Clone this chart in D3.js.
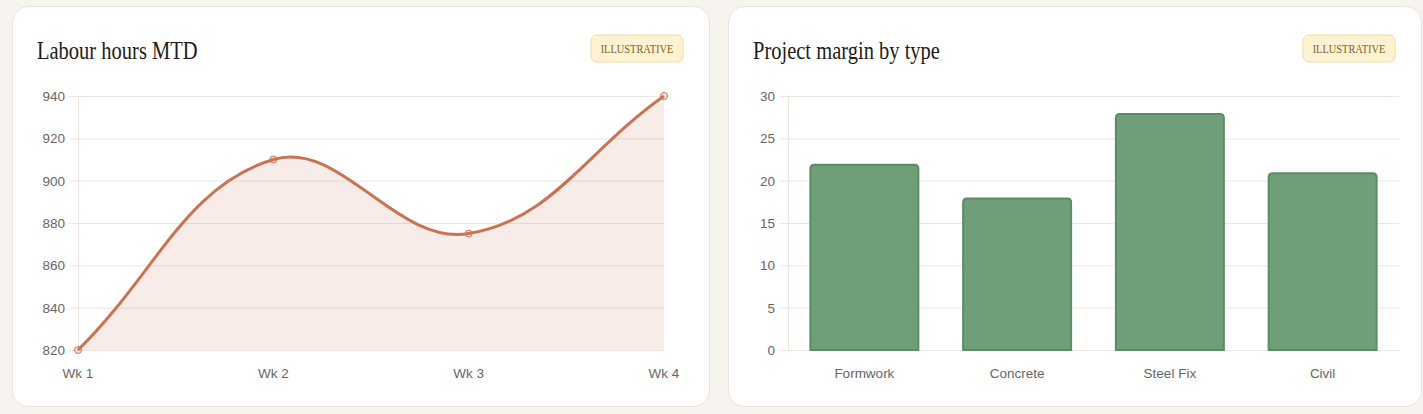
<!DOCTYPE html>
<html>
<head>
<meta charset="utf-8">
<script src="https://cdn.jsdelivr.net/npm/d3@7"></script>
<style>
  html, body { margin: 0; padding: 0; background: #f7f4ef; }
  body { width: 1423px; height: 414px; overflow: hidden; position: relative; }
  .card {
    position: absolute; top: 6px; height: 401px; background: #fff;
    border: 1px solid #ebe5d9; border-radius: 16px; box-sizing: border-box;
  }
  svg { display: block; }
</style>
</head>
<body>
<div class="card" id="c1" style="left:12px;width:698px;"></div>
<div class="card" id="c2" style="left:728px;width:694px;"></div>
<script>
// labour hours, month to date
const weeks = ["Wk 1", "Wk 2", "Wk 3", "Wk 4"]
const hours = [820, 910, 875, 940]
const hourTicks = [820, 840, 860, 880, 900, 920, 940]

// project margin (%) by work type
const types = ["Formwork", "Concrete", "Steel Fix", "Civil"]
const margins = [22, 18, 28, 21]
const marginTicks = [0, 5, 10, 15, 20, 25, 30]

const tickFont = "Helvetica, Arial, 'Liberation Sans', sans-serif"
const gridColor = "#ebe7e0"

function card(id, w, title) {
    const svg = d3.select(id).append("svg")
        .attr("width", w).attr("height", 401)
        .style("position", "absolute").style("left", "-1px").style("top", "-1px")

    // condensed serif look: squeeze horizontally
    svg.append("text")
        .attr("transform", "translate(25,53) scale(0.82,1)")
        .attr("font-family", "'Liberation Serif', 'DejaVu Serif', serif")
        .attr("font-size", 25)
        .attr("fill", "#1d1b17")
        .text(title)

    // badge
    const bx = w - 119, by = 29
    svg.append("rect")
        .attr("x", bx).attr("y", by).attr("width", 92).attr("height", 27)
        .attr("rx", 6)
        .attr("fill", "#fdf3d3").attr("stroke", "#f1dc97")
    svg.append("text")
        .attr("transform", "translate(" + (bx + 46) + "," + (by + 18) + ") scale(0.8,1)")
        .attr("text-anchor", "middle")
        .attr("font-family", "'Liberation Serif', serif")
        .attr("font-size", 13)
        .attr("fill", "#7d5f1e")
        .text("ILLUSTRATIVE")
    return svg
}

// Chart.js style bezier (tension 0.4)
function splinePath(pts, t) {
    let d = "M" + pts[0][0] + "," + pts[0][1]
    const cps = pts.map((p, i) => {
        const prev = pts[Math.max(i - 1, 0)], next = pts[Math.min(i + 1, pts.length - 1)]
        const d01 = Math.hypot(p[0] - prev[0], p[1] - prev[1])
        const d12 = Math.hypot(next[0] - p[0], next[1] - p[1])
        let s01 = d01 / (d01 + d12), s12 = d12 / (d01 + d12)
        if (isNaN(s01)) s01 = 0
        if (isNaN(s12)) s12 = 0
        const fa = t * s01, fb = t * s12
        return {
            prev: [p[0] - fa * (next[0] - prev[0]), p[1] - fa * (next[1] - prev[1])],
            next: [p[0] + fb * (next[0] - prev[0]), p[1] + fb * (next[1] - prev[1])]
        }
    })
    for (let i = 1; i < pts.length; i++) {
        const a = cps[i - 1].next, b = cps[i].prev
        d += "C" + a[0] + "," + a[1] + " " + b[0] + "," + b[1] + " " + pts[i][0] + "," + pts[i][1]
    }
    return d
}

function yAxis(svg, y, ticks, left, right) {
    const g = svg.append("g")
    g.selectAll("line.grid").data(ticks).join("line")
        .attr("x1", left - 9).attr("x2", right)
        .attr("y1", d => y(d) + 0.5).attr("y2", d => y(d) + 0.5)
        .attr("stroke", gridColor)
    g.append("line")
        .attr("x1", left + 0.5).attr("x2", left + 0.5)
        .attr("y1", y.range()[1]).attr("y2", y.range()[0])
        .attr("stroke", gridColor)
    g.selectAll("text").data(ticks).join("text")
        .attr("x", left - 13).attr("y", d => y(d) + 5)
        .attr("text-anchor", "end")
        .attr("font-family", tickFont).attr("font-size", 13.5)
        .attr("fill", "#666")
        .text(d => d)
}

// ---- line chart ----
{
    const svg = card("#c1", 698, "Labour hours MTD")
    const left = 66, right = 652, top = 90, bottom = 344
    const x = d3.scalePoint().domain(weeks).range([left, right])
    const y = d3.scaleLinear().domain([820, 940]).range([bottom, top])

    yAxis(svg, y, hourTicks, left, right)

    svg.append("g").selectAll("text").data(weeks).join("text")
        .attr("x", d => x(d)).attr("y", bottom + 28)
        .attr("text-anchor", "middle")
        .attr("font-family", tickFont).attr("font-size", 13.5)
        .attr("fill", "#666")
        .text(d => d)

    const pts = weeks.map((w, i) => [x(w), y(hours[i])])
    const line = splinePath(pts, 0.4)

    svg.append("path")
        .attr("d", line + "L" + x(weeks[weeks.length - 1]) + "," + bottom + "L" + x(weeks[0]) + "," + bottom + "Z")
        .attr("fill", "rgba(196,108,76,0.13)")

    svg.append("path")
        .attr("d", line)
        .attr("fill", "none")
        .attr("stroke", "#c87453")
        .attr("stroke-width", 3)

    svg.append("g").selectAll("circle").data(hours).join("circle")
        .attr("cx", (d, i) => x(weeks[i])).attr("cy", d => y(d))
        .attr("r", 3.5)
        .attr("fill", "rgba(200,116,83,0.18)")
        .attr("stroke", "#c87453").attr("stroke-width", 1)
}

// ---- bar chart ----
{
    const svg = card("#c2", 694, "Project margin by type")
    const left = 60, right = 671, top = 90, bottom = 344
    const x = d3.scaleBand().domain(types).range([left, right])
    const y = d3.scaleLinear().domain([0, 30]).range([bottom, top])

    yAxis(svg, y, marginTicks, left, right)

    const bw = x.bandwidth() * 0.72
    const r = 4
    svg.append("g").selectAll("path").data(margins).join("path")
        .attr("d", (d, i) => {
            const x0 = x(types[i]) + (x.bandwidth() - bw) / 2 + 1, x1 = x0 + bw - 2
            const y0 = y(d) + 1, y1 = bottom
            return "M" + x0 + "," + y1 + "V" + (y0 + r) + "Q" + x0 + "," + y0 + " " + (x0 + r) + "," + y0 +
                "H" + (x1 - r) + "Q" + x1 + "," + y0 + " " + x1 + "," + (y0 + r) + "V" + y1 + "Z"
        })
        .attr("fill", "#6f9f78")
        .attr("stroke", "#5c8c65")
        .attr("stroke-width", 2)

    svg.append("g").selectAll("text").data(types).join("text")
        .attr("x", d => x(d) + x.bandwidth() / 2).attr("y", bottom + 28)
        .attr("text-anchor", "middle")
        .attr("font-family", tickFont).attr("font-size", 13.5)
        .attr("fill", "#666")
        .text(d => d)
}
</script>
</body>
</html>
